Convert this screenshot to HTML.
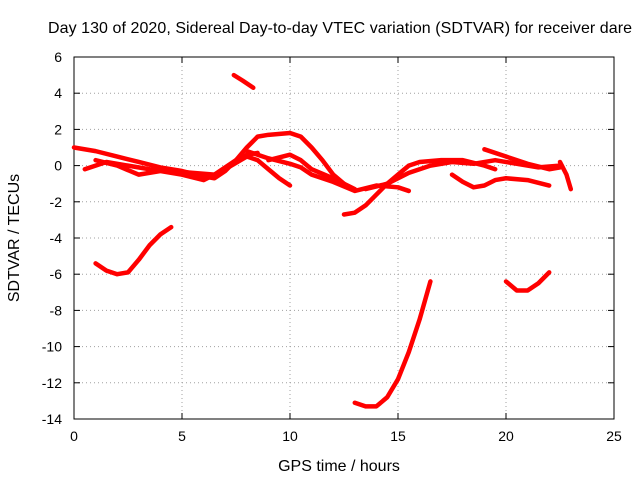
<!DOCTYPE html>
<html><head><meta charset="utf-8"><style>
body{margin:0;background:#fff}
svg{display:block;font-family:"Liberation Sans",sans-serif}
</style></head><body>
<svg id="c" width="640" height="480">
<text x="340" y="33" font-size="16" text-anchor="middle" textLength="584">Day 130 of 2020, Sidereal Day-to-day VTEC variation (SDTVAR) for receiver dare</text>
<text x="339" y="471" font-size="16" text-anchor="middle">GPS time / hours</text>
<text transform="translate(19,238) rotate(-90)" font-size="16" text-anchor="middle">SDTVAR / TECUs</text>
<g id="grid"></g><g id="axes"></g><g id="series"></g>
</svg>
<script>
const xTicks=[0,5,10,15,20,25];
const yTicks=[6,4,2,0,-2,-4,-6,-8,-10,-12,-14];
const trackX=[
[7.4,7.8,8.3],
[1.0,1.5,2.0,2.5,3.0,3.5,4.0,4.5],
[13.0,13.5,14.0,14.5,15.0,15.5,16.0,16.5],
[20.0,20.5,21.0,21.5,22.0],
[0,1,2,3,4,5,6,6.5,7,7.5,8,8.5],
[0.5,1.5,2.5,3.5,4.5,5.5,6.5,7.5,8,8.5,9,10,10.5,11,11.5,12,12.5,13],
[1,2,3,4,5,6,7,8,8.5,9,9.5,10],
[8,9,10,10.5,11,12,13,14,15,15.5],
[9,10,10.5,11,12,12.5],
[12.5,13,13.5,14,14.5,15,15.5,16,17,18,19,19.5],
[13.5,14.5,15.5,16.5,17.5,18.5,19.5,20.5,21.5,22.5],
[17.5,18,18.5,19,19.5,20,21,22],
[19,20,21,22,22.5],
[22.5,22.8,23]
];
const trackY=[
[5.0,4.7,4.3],
[-5.4,-5.8,-6.0,-5.9,-5.2,-4.4,-3.8,-3.4],
[-13.1,-13.3,-13.3,-12.8,-11.8,-10.3,-8.5,-6.4],
[-6.4,-6.9,-6.9,-6.5,-5.9],
[1.0,0.8,0.5,0.2,-0.1,-0.3,-0.6,-0.7,-0.3,0.3,0.6,0.7],
[-0.2,0.2,0,-0.2,-0.3,-0.4,-0.5,0.3,1.0,1.6,1.7,1.8,1.6,1.0,0.3,-0.5,-1.0,-1.3],
[0.3,0.0,-0.5,-0.3,-0.5,-0.8,-0.2,0.5,0.3,-0.2,-0.7,-1.1],
[0.8,0.4,0.1,-0.1,-0.5,-0.9,-1.4,-1.1,-1.2,-1.4],
[0.3,0.6,0.3,-0.2,-0.7,-1.0],
[-2.7,-2.6,-2.2,-1.6,-1.0,-0.5,0.0,0.2,0.3,0.3,0.0,-0.2],
[-1.3,-1.0,-0.4,0,0.2,0.1,0.3,0.1,-0.1,0],
[-0.5,-0.9,-1.2,-1.1,-0.8,-0.7,-0.8,-1.1],
[0.9,0.5,0.1,-0.2,-0.1],
[0.2,-0.5,-1.3]
];
const X0=74,X1=614,Y0=419,Y1=57;
const sx=v=>X0+(v-0)/(25-0)*(X1-X0);
const sy=v=>Y0-(v+14)/(6+14)*(Y0-Y1);
const NS='http://www.w3.org/2000/svg';
function mk(t,a,p){const e=document.createElementNS(NS,t);for(const k in a)e.setAttribute(k,a[k]);p.appendChild(e);return e;}
const grid=document.getElementById('grid'),axes=document.getElementById('axes'),ser=document.getElementById('series');
xTicks.forEach(t=>{
 const x=sx(t);
 if(t>0&&t<25){const g=mk('line',{x1:x,x2:x,y1:Y0,y2:Y1,stroke:'#a0a0a0','stroke-dasharray':'1,3'},grid);
 
 }
 mk('line',{x1:x,x2:x,y1:Y0,y2:Y0-6,stroke:'#000'},axes);
 mk('line',{x1:x,x2:x,y1:Y1,y2:Y1+6,stroke:'#000'},axes);
 const l=mk('text',{x:x,y:Y0+22,'font-size':14,'text-anchor':'middle'},axes);l.textContent=t;
 
 
});
yTicks.forEach(t=>{
 const y=sy(t);
 if(t>-14&&t<6){const g=mk('line',{x1:X0,x2:X1,y1:y,y2:y,stroke:'#a0a0a0','stroke-dasharray':'1,3'},grid);
 
 }
 mk('line',{x1:X0,x2:X0+6,y1:y,y2:y,stroke:'#000'},axes);
 mk('line',{x1:X1,x2:X1-6,y1:y,y2:y,stroke:'#000'},axes);
 const l=mk('text',{x:X0-12,y:y+5,'font-size':14,'text-anchor':'end'},axes);l.textContent=t;
 
 
});
const fr=mk('rect',{x:X0,y:Y1,width:X1-X0,height:Y0-Y1,fill:'none',stroke:'#000'},axes);


trackX.forEach((xs,i)=>{
 const pts=xs.map((v,j)=>sx(v)+','+sy(trackY[i][j])).join(' ');
 const p=mk('polyline',{points:pts,fill:'none',stroke:'#ff0000','stroke-width':4.5,'stroke-linejoin':'round','stroke-linecap':'round'},ser);
 
 
});
</script>
</body></html>
